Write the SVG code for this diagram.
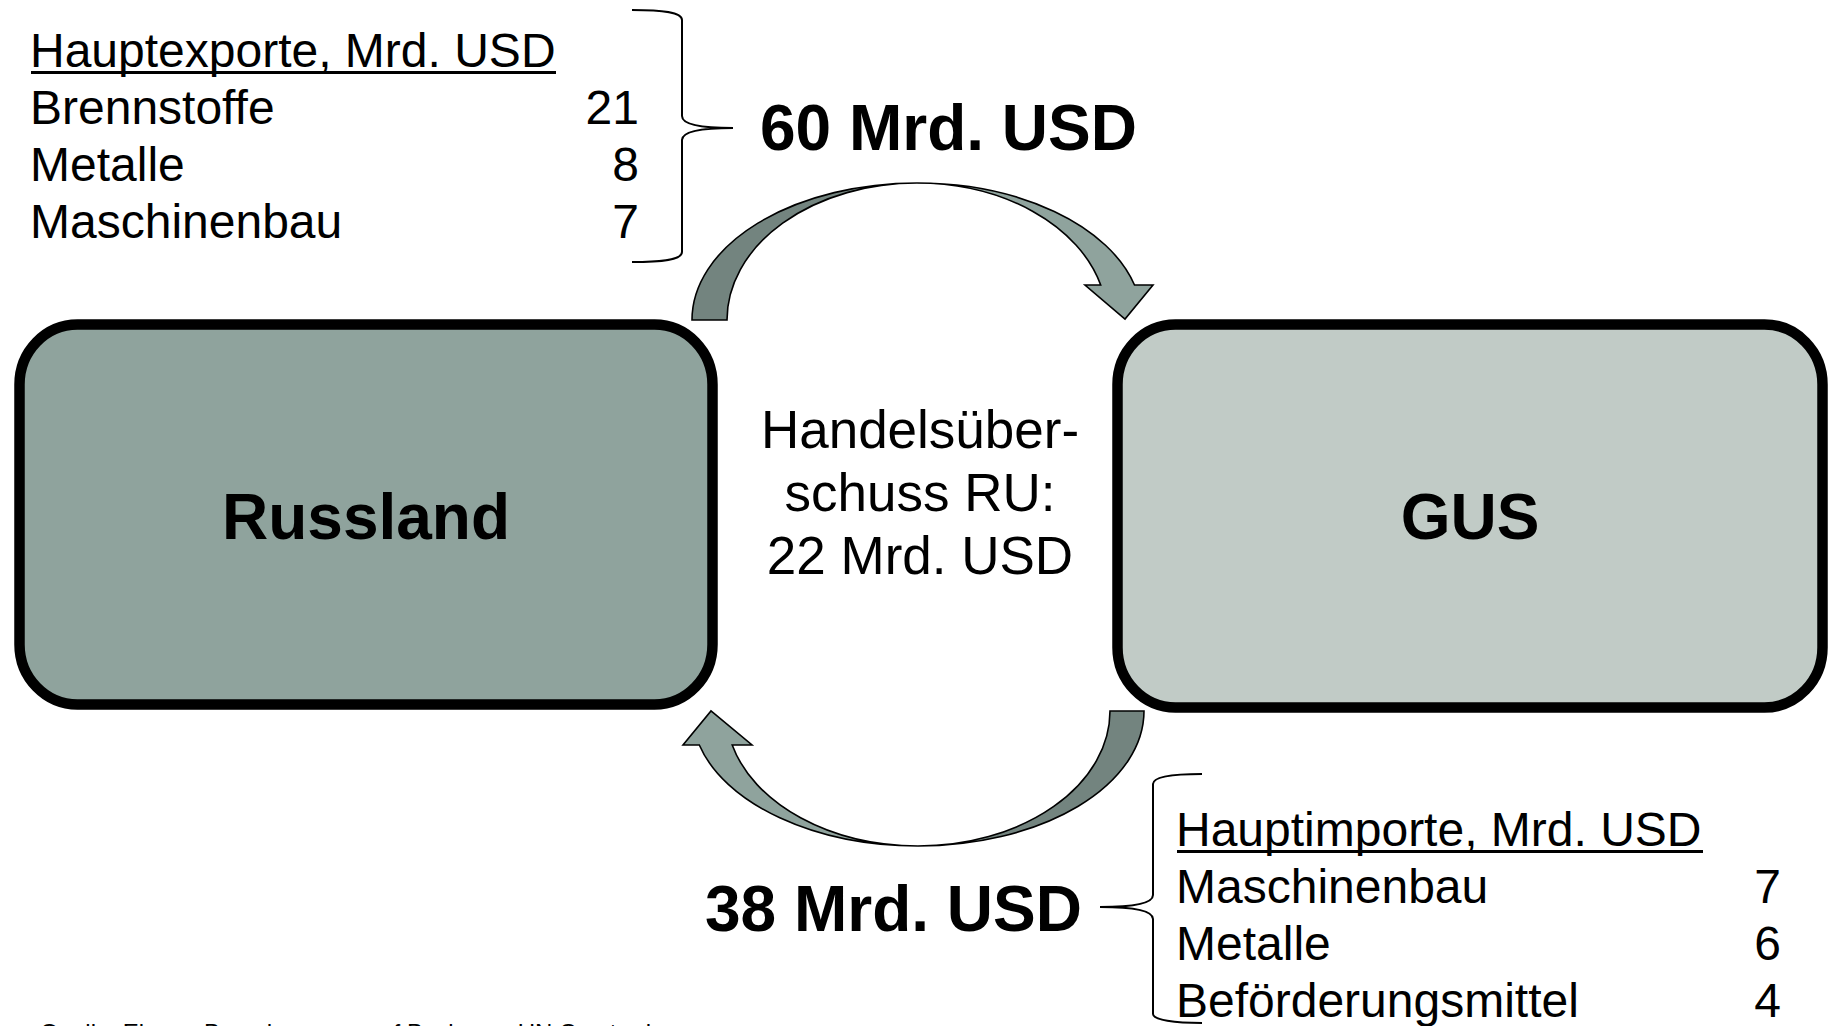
<svg xmlns="http://www.w3.org/2000/svg" width="1830" height="1026" viewBox="0 0 1830 1026">
  <style>
    text { font-family: "Liberation Sans", Arial, sans-serif; fill: #000; }
    .node { stroke: #000; stroke-width: 10.5; }
    .ru { fill: #8FA39D; }
    .gus { fill: #C1CBC6; }
    .nodelabel { font-size: 64px; font-weight: bold; text-anchor: middle; }
    .list { font-size: 48px; }
    .num { font-size: 48px; text-anchor: end; }
    .big { font-size: 64px; font-weight: bold; }
    .mid { font-size: 53px; text-anchor: middle; }
    .foot { font-size: 24px; }
    .arrow-dark { fill: #73847F; stroke: #000; stroke-width: 1.6; stroke-linejoin: miter; }
    .arrow-light { fill: #8FA39D; stroke: #000; stroke-width: 1.6; stroke-linejoin: miter; }
    .brace { fill: none; stroke: #000; stroke-width: 2; }
    .uline { stroke: #000; stroke-width: 3; }
  </style>
  <rect width="1830" height="1026" fill="#FFFFFF"/>

  <g id="node-russland">
    <rect class="node ru" x="19.5" y="324.5" width="693" height="380" rx="58" ry="60"/>
    <text class="nodelabel" x="366" y="539">Russland</text>
  </g>

  <g id="node-gus">
    <rect class="node gus" x="1117.5" y="324.5" width="705" height="383" rx="58" ry="60"/>
    <text class="nodelabel" x="1470" y="539">GUS</text>
  </g>

  <g id="connectors">
    <g id="arrow-export">
      <path class="arrow-dark" d="M 692 320 A 225 137 0 0 1 917 183 A 190 137 0 0 0 727 320 Z"/>
      <path class="arrow-light" d="M 917 183 A 225 137 0 0 1 1134.5 285 L 1153 285 L 1125 319 L 1085 285 L 1100.7 285 A 190 137 0 0 0 917 183 Z"/>
    </g>
    <g id="arrow-import">
      <path class="arrow-dark" d="M 1144 711 A 226 135 0 0 1 918 846 A 192 135 0 0 0 1110 711 Z"/>
      <path class="arrow-light" d="M 918 846 A 226 135 0 0 1 699.3 745 L 683 745 L 711 711 L 752 745 L 732.2 745 A 192 135 0 0 0 918 846 Z"/>
    </g>
  </g>

  <g id="label-surplus">
    <text class="mid" x="920" y="448">Handelsüber-</text>
    <text class="mid" x="920" y="511">schuss RU:</text>
    <text class="mid" x="920" y="574">22 Mrd. USD</text>
  </g>

  <g id="exports">
    <text class="list" x="30" y="67">Hauptexporte, Mrd. USD</text>
    <line class="uline" x1="31" y1="72.5" x2="556" y2="72.5"/>
    <text class="list" x="30" y="124">Brennstoffe</text>
    <text class="num" x="639" y="124">21</text>
    <text class="list" x="30" y="181">Metalle</text>
    <text class="num" x="639" y="181">8</text>
    <text class="list" x="30" y="238">Maschinenbau</text>
    <text class="num" x="639" y="238">7</text>
    <path class="brace" d="M 632 10 C 662 10 682 12 682 20 L 682 116 C 682 124 700 128 733 128 C 700 128 682 132 682 140 L 682 252 C 682 260 662 262 632 262"/>
    <text class="big" x="760" y="150">60 Mrd. USD</text>
  </g>

  <g id="imports">
    <text class="list" x="1176" y="846">Hauptimporte, Mrd. USD</text>
    <line class="uline" x1="1177" y1="851.5" x2="1703" y2="851.5"/>
    <text class="list" x="1176" y="903">Maschinenbau</text>
    <text class="num" x="1781" y="903">7</text>
    <text class="list" x="1176" y="960">Metalle</text>
    <text class="num" x="1781" y="960">6</text>
    <text class="list" x="1176" y="1017">Beförderungsmittel</text>
    <text class="num" x="1781" y="1017">4</text>
    <path class="brace" d="M 1202 774 C 1175 774 1153 776 1153 784 L 1153 895 C 1153 903 1135 907 1100 907 C 1135 907 1153 911 1153 919 L 1153 1014 C 1153 1020 1175 1023 1202 1023"/>
    <text class="big" x="705" y="931">38 Mrd. USD</text>
  </g>

  <g id="footer">
    <text class="foot" x="40" y="1041">Quelle: Eigene Berechnungen auf Basis von UN Comtrade</text>
  </g>
</svg>
